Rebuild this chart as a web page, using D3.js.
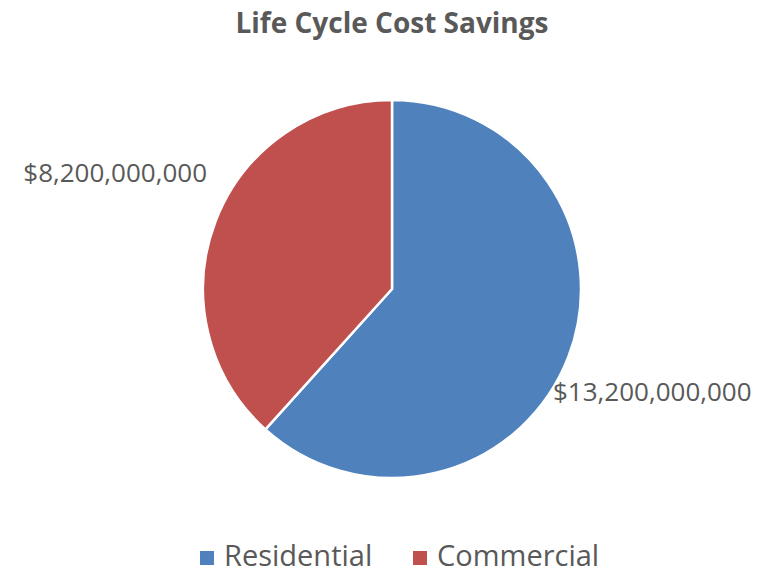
<!DOCTYPE html>
<html>
<head>
<meta charset="utf-8">
<script src="https://cdn.jsdelivr.net/npm/d3@7"></script>
<style>
  body { margin: 0; background: #fff; }
  svg text { font-family: "Open Sans", sans-serif; fill: #595959; }
</style>
</head>
<body>
<div id="chart"></div>
<script>
// data
var categories = ["Residential", "Commercial"];
var values = [13200000000, 8200000000];
var colors = ["#4F81BD", "#C0504D"];
var title = "Life Cycle Cost Savings";

var width = 761, height = 573;
var cx = 392, cy = 289, radius = 189;

var svg = d3.select("#chart")
  .append("svg")
  .attr("width", width)
  .attr("height", height);

// title
svg.append("text")
  .attr("x", 392)
  .attr("y", 33)
  .attr("text-anchor", "middle")
  .style("font-size", "28px")
  .style("font-weight", "bold")
  .text(title);

var data = categories.map(function (c, i) { return { name: c, value: values[i], color: colors[i] }; });

var pie = d3.pie()
  .value(function (d) { return d.value; })
  .sort(null);

var arc = d3.arc()
  .innerRadius(0)
  .outerRadius(radius);

var g = svg.append("g")
  .attr("transform", "translate(" + cx + "," + cy + ")");

var arcs = pie(data);

g.selectAll("path")
  .data(arcs)
  .enter()
  .append("path")
  .attr("d", arc)
  .attr("fill", function (d) { return d.data.color; })
  .attr("stroke", "#fff")
  .attr("stroke-width", 2.5)
  .attr("stroke-linejoin", "round");

// data labels, outside the pie (residential lower right, commercial upper left)
var fmt = d3.format("$,.0f");
g.selectAll("text.lbl")
  .data(arcs)
  .enter()
  .append("text")
  .attr("class", "lbl")
  .attr("x", function (d, i) { return i === 0 ? 161 : -185; })
  .attr("y", function (d, i) { return i === 0 ? 105 : -114; })
  .attr("text-anchor", function (d, i) { return i === 0 ? "start" : "end"; })
  .attr("dominant-baseline", "middle")
  .style("font-size", "26px")
  .text(function (d) { return fmt(d.data.value); });

// legend
var legend = svg.append("g").attr("transform", "translate(0,558)");
var legendX = [200, 413];
var items = legend.selectAll("g")
  .data(data)
  .enter()
  .append("g")
  .attr("transform", function (d, i) { return "translate(" + legendX[i] + ",0)"; });
items.append("rect")
  .attr("x", 0)
  .attr("y", -7)
  .attr("width", 14)
  .attr("height", 14)
  .attr("fill", function (d) { return d.color; });
items.append("text")
  .attr("x", 24)
  .attr("y", 0)
  .attr("dominant-baseline", "middle")
  .style("font-size", "29px")
  .text(function (d) { return d.name; });
</script>
</body>
</html>
